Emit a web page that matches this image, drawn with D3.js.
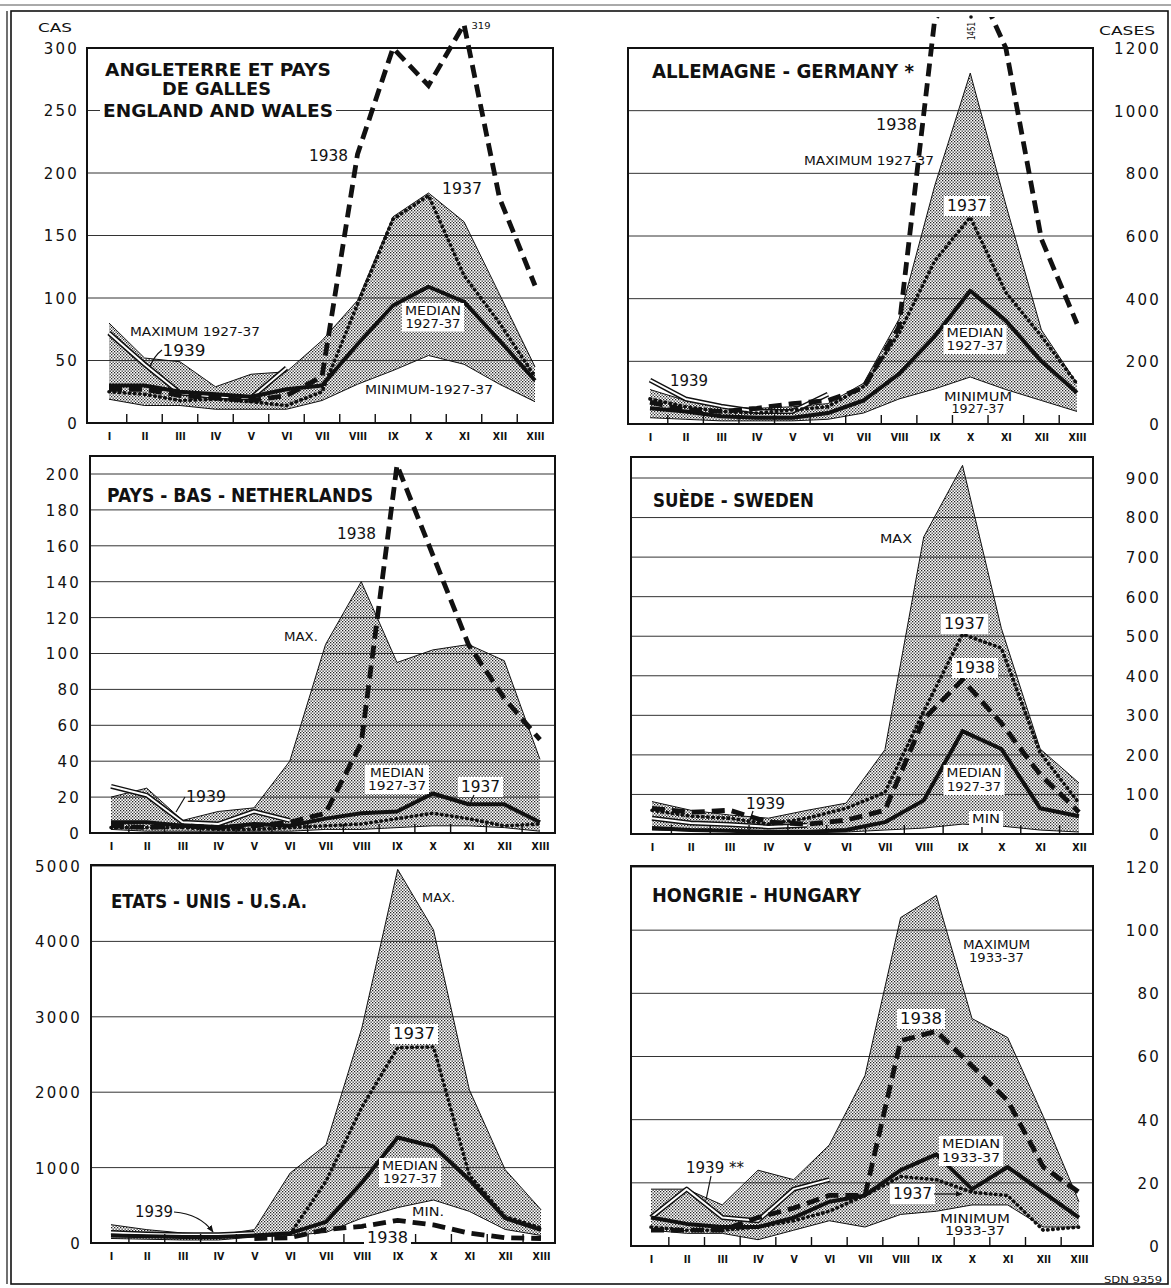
<!DOCTYPE html>
<html>
<head>
<meta charset="utf-8">
<script src="https://cdn.jsdelivr.net/npm/d3@7"></script>
<style>
body { margin: 0; background: #fff; }
svg text { font-family: "DejaVu Sans", sans-serif; fill: #111; }
</style>
</head>
<body>
<div id="canvas"></div>
<script>
"use strict"

// periods (4-week periods, Sweden monthly)
const periods13 = ["I", "II", "III", "IV", "V", "VI", "VII", "VIII", "IX", "X", "XI", "XII", "XIII"];
const periods12 = ["I", "II", "III", "IV", "V", "VI", "VII", "VIII", "IX", "X", "XI", "XII"];

// England and Wales
const engTicks = [0, 50, 100, 150, 200, 250, 300];
const engMax = [80, 52, 49, 29, 39, 41, 66, 98, 165, 184, 161, 103, 45];
const engMin = [19, 14, 14, 11, 11, 11, 18, 31, 42, 54, 47, 31, 17];
const engMedian = [30, 30, 25, 23, 21, 27, 30, 63, 94, 109, 97, 66, 34];
const eng1937 = [25, 23, 18, 19, 17, 14, 25, 95, 163, 182, 118, 80, 37];
const eng1938 = [27, 27, 22, 20, 18, 22, 37, 215, 300, 270, 319, 180, 110];
const eng1939 = [72, 47, 24, 21, 20, 44];

// Germany
const gerTicks = [0, 200, 400, 600, 800, 1000, 1200];
const gerMax = [110, 75, 55, 50, 55, 65, 130, 335, 760, 1120, 700, 300, 130];
const gerMin = [20, 15, 10, 10, 10, 15, 35, 80, 112, 150, 110, 75, 40];
const gerMedian = [50, 40, 25, 20, 20, 35, 75, 160, 280, 425, 330, 200, 100];
const ger1937 = [80, 55, 40, 35, 45, 55, 120, 290, 520, 660, 420, 280, 128];
const ger1938 = [70, 45, 40, 50, 65, 75, 115, 310, 1290, 1451, 1200, 590, 320];
const ger1939 = [140, 80, 57, 40, 40, 95];

// Netherlands
const nlTicks = [0, 20, 40, 60, 80, 100, 120, 140, 160, 180, 200];
const nlMax = [20, 25, 7, 12, 14, 40, 105, 140, 95, 102, 105, 96, 41];
const nlMin = [2, 1, 1, 1, 1, 1, 2, 2, 3, 4, 4, 3, 1];
const nlMedian = [6, 6, 4, 3, 5, 4, 8, 11, 12, 22, 16, 16, 6];
const nl1937 = [3, 3, 3, 2, 2, 3, 4, 5, 8, 11, 8, 4, 5];
const nl1938 = [4, 3, 4, 3, 4, 6, 11, 50, 205, 155, 105, 75, 52];
const nl1939 = [26, 21, 6, 5, 12, 7];

// Sweden
const sweTicks = [0, 100, 200, 300, 400, 500, 600, 700, 800, 900];
const sweMax = [82, 60, 48, 40, 60, 78, 213, 751, 932, 520, 215, 129];
const sweMin = [10, 8, 7, 5, 5, 5, 10, 15, 25, 20, 10, 5];
const sweMedian = [15, 10, 8, 5, 5, 10, 30, 85, 260, 215, 65, 45];
const swe1937 = [60, 45, 40, 25, 40, 65, 105, 310, 505, 470, 205, 78];
const swe1938 = [65, 55, 60, 30, 25, 35, 60, 290, 390, 280, 150, 55];
const swe1939 = [40, 28, 24, 18, 22];

// U.S.A.
const usaTicks = [0, 1000, 2000, 3000, 4000, 5000];
const usaMax = [243, 177, 133, 110, 177, 928, 1300, 2850, 4955, 4152, 2032, 972, 442];
const usaMin = [60, 50, 40, 40, 80, 100, 140, 330, 470, 570, 420, 180, 100];
const usaMedian = [100, 90, 80, 80, 100, 130, 280, 800, 1400, 1280, 840, 330, 175];
const usa1937 = [null, null, null, null, null, 120, 820, 1800, 2590, 2600, 900, 350, 200];
const usa1938 = [null, null, null, null, 60, 70, 180, 220, 300, 240, 130, 70, 60];
const usa1939 = [140, 120, 110, 110, 130];

// Hungary
const hunTicks = [0, 20, 40, 60, 80, 100, 120];
const hunMax = [18, 18, 13, 24, 21, 32, 54, 104, 111, 72, 66, 41, 14];
const hunMin = [5, 4, 4, 2, 5, 8, 6, 10, 11, 13, 13, 6, 6];
const hunMedian = [9, 7, 6, 6, 9, 14, 16, 24, 29, 18, 25, 17, 9];
const hun1937 = [6, 5, 5, 6, 8, 11, 16, 22, 21, 17, 16, 5, 6];
const hun1938 = [5, 5, 5, 9, 12, 16, 16, 65, 68, 57, 46, 25, 17];
const hun1939 = [9, 18, 9, 8, 18, 21];

let drawing = d3.select("#canvas")
    .append("svg")
    .attr("width", 1171)
    .attr("height", 1288);

// stipple used for the max-min band
let defs = drawing.append("defs");
let pat = defs.append("pattern")
    .attr("id", "stipple")
    .attr("width", 3)
    .attr("height", 3)
    .attr("patternUnits", "userSpaceOnUse");
pat.append("rect").attr("width", 1.3).attr("height", 1.3).attr("fill", "#222");
pat.append("rect").attr("x", 1.5).attr("y", 1.5).attr("width", 1.3).attr("height", 1.3).attr("fill", "#222");

defs.append("marker")
    .attr("id", "arrow")
    .attr("viewBox", "0 0 10 10")
    .attr("refX", 9).attr("refY", 5)
    .attr("markerWidth", 6).attr("markerHeight", 6)
    .attr("orient", "auto")
    .append("path").attr("d", "M0,1 L10,5 L0,9 z").attr("fill", "#111");

defs.append("clipPath").attr("id", "gerClip")
    .append("rect").attr("x", 600).attr("y", 17).attr("width", 520).attr("height", 420);

// outer border
drawing.append("rect")
    .attr("x", 11).attr("y", 11).attr("width", 1157).attr("height", 1273)
    .attr("fill", "none").attr("stroke", "#111").attr("stroke-width", 1.6);
drawing.append("line")
    .attr("x1", 7).attr("x2", 7).attr("y1", 11).attr("y2", 1284)
    .attr("stroke", "#111").attr("stroke-width", 1.2);
drawing.append("line")
    .attr("x1", 0).attr("x2", 1171).attr("y1", 5).attr("y2", 5)
    .attr("stroke", "#555").attr("stroke-width", 1);

function addLabel(g, L) {
    let lines = Array.isArray(L.t) ? L.t : [L.t];
    let grp = g.append("g");
    lines.forEach((s, i) => {
        let t = grp.append("text")
            .attr("x", L.x)
            .attr("y", L.y + i * (L.lh || 0))
            .attr("text-anchor", "middle")
            .attr("font-size", L.s || 15)
            .attr("font-weight", L.bold ? "bold" : null)
            .text(s);
        let w = Array.isArray(L.w) ? L.w[i] : L.w;
        if (w) t.attr("textLength", w).attr("lengthAdjust", "spacingAndGlyphs");
    });
    if (L.box) {
        let b = grp.node().getBBox();
        grp.insert("rect", ":first-child")
            .attr("x", b.x - 3).attr("y", b.y - 1)
            .attr("width", b.width + 6).attr("height", b.height + 2)
            .attr("fill", "white");
    }
    if (L.lead) {
        g.append("path")
            .attr("d", L.lead)
            .attr("fill", "none")
            .attr("stroke", "#111")
            .attr("stroke-width", 1.2)
            .attr("marker-end", L.arrow ? "url(#arrow)" : null);
    }
}

function drawPanel(p) {
    let g = drawing.append("g");
    let x = d3.scalePoint().domain(p.cats).range([p.x0, p.x1]);
    let y = d3.scaleLinear().domain([0, d3.max(p.ticks)]).range([p.yBase, p.yTopTick]);

    // gridlines
    g.append("g").selectAll("line")
        .data(p.ticks.filter(t => t > 0))
        .join("line")
        .attr("x1", p.left).attr("x2", p.right)
        .attr("y1", d => y(d)).attr("y2", d => y(d))
        .attr("stroke", "#333").attr("stroke-width", 1);

    let s = g.append("g");
    if (p.clip) s.attr("clip-path", "url(#" + p.clip + ")");

    let idx = p.cats.map((c, i) => i);
    let area = d3.area()
        .x(i => x(p.cats[i]))
        .y0(i => y(p.min[i]))
        .y1(i => y(p.max[i]));
    s.append("path").datum(idx).attr("d", area).attr("fill", "url(#stipple)");

    let lineOf = arr => d3.line()
        .defined(i => arr[i] != null)
        .x(i => x(p.cats[i]))
        .y(i => y(arr[i]))(arr.map((v, i) => i));

    s.append("path").attr("d", lineOf(p.max)).attr("fill", "none").attr("stroke", "#111").attr("stroke-width", 1);
    s.append("path").attr("d", lineOf(p.min)).attr("fill", "none").attr("stroke", "#111").attr("stroke-width", 1);

    // 1939: double line
    s.append("path").attr("d", lineOf(p.s1939)).attr("fill", "none").attr("stroke", "#111")
        .attr("stroke-width", 5).attr("stroke-linejoin", "round");
    s.append("path").attr("d", lineOf(p.s1939)).attr("fill", "none").attr("stroke", "#fff")
        .attr("stroke-width", 2).attr("stroke-linejoin", "round");

    // median
    s.append("path").attr("d", lineOf(p.median)).attr("fill", "none").attr("stroke", "#111")
        .attr("stroke-width", 4).attr("stroke-linejoin", "round");
    // 1937 dotted
    s.append("path").attr("d", lineOf(p.s1937)).attr("fill", "none").attr("stroke", "#111")
        .attr("stroke-width", 3.6).attr("stroke-dasharray", "0.5,4.6").attr("stroke-linecap", "round");
    // 1938 dashed
    s.append("path").attr("d", lineOf(p.s1938)).attr("fill", "none").attr("stroke", "#111")
        .attr("stroke-width", 4.8).attr("stroke-dasharray", "13,7");

    // frame
    g.append("rect")
        .attr("x", p.left).attr("y", p.top)
        .attr("width", p.right - p.left).attr("height", p.yBase - p.top)
        .attr("fill", "none").attr("stroke", "#111").attr("stroke-width", 2);

    // period boundary ticks
    let step = x.step();
    g.append("g").selectAll("line")
        .data(p.cats.slice(1))
        .join("line")
        .attr("x1", d => x(d) - step / 2).attr("x2", d => x(d) - step / 2)
        .attr("y1", p.yBase).attr("y2", p.yBase - 9)
        .attr("stroke", "#111").attr("stroke-width", 1.4);

    // x labels
    let xa = g.append("g")
        .attr("transform", "translate(0," + (p.yBase + 17) + ")")
        .call(d3.axisBottom(x).tickSize(0).tickPadding(0));
    xa.select(".domain").remove();
    xa.selectAll("text")
        .attr("y", 0).attr("dy", 0)
        .attr("font-size", 10.5)
        .attr("font-weight", "bold")
        .style("font-family", "'DejaVu Sans Condensed', 'DejaVu Sans', sans-serif");

    // y labels
    let ya = g.append("g")
        .attr("transform", "translate(" + p.labelX + ",0)")
        .call((p.side === "left" ? d3.axisLeft(y) : d3.axisRight(y))
            .tickValues(p.ticks).tickSize(0).tickPadding(0).tickFormat(d3.format("d")));
    ya.select(".domain").remove();
    ya.selectAll("text")
        .attr("x", 0)
        .attr("dy", "0.36em")
        .attr("text-anchor", "end")
        .attr("font-size", 15)
        .attr("letter-spacing", 2.2);

    // title
    p.title.forEach(L => addLabel(g, Object.assign({ bold: true, s: 19, box: true }, L)));
    p.labels.forEach(L => addLabel(g, L));
}

drawPanel({
    cats: periods13, ticks: engTicks,
    max: engMax, min: engMin, median: engMedian, s1937: eng1937, s1938: eng1938, s1939: eng1939,
    left: 87, right: 553, top: 48, yBase: 423, yTopTick: 48, x0: 109, x1: 535,
    side: "left", labelX: 79,
    title: [
        { t: "ANGLETERRE ET PAYS", x: 218, y: 76, w: 226, s: 17 },
        { t: "DE GALLES", x: 216.5, y: 95, w: 109, s: 17 },
        { t: "ENGLAND AND WALES", x: 218, y: 117, w: 230, s: 17 }
    ],
    labels: [
        { t: "CAS", x: 55, y: 32, s: 12, w: 34 },
        { t: "319", x: 481, y: 29, s: 9, w: 19 },
        { t: "1938", x: 328.5, y: 161, w: 39 },
        { t: "1937", x: 462, y: 194, w: 40 },
        { t: "MAXIMUM 1927-37", x: 195, y: 336, s: 12, w: 130 },
        { t: "1939", x: 184, y: 356, w: 43, lead: "M162,350 Q154,356 150,367" },
        { t: ["MEDIAN", "1927-37"], x: 433, y: 315, lh: 12.5, s: 12, w: [56, 55], box: true },
        { t: "MINIMUM-1927-37", x: 429, y: 394, s: 12, w: 128 }
    ]
});

drawPanel({
    cats: periods13, ticks: gerTicks,
    max: gerMax, min: gerMin, median: gerMedian, s1937: ger1937, s1938: ger1938, s1939: ger1939,
    left: 628, right: 1093, top: 48, yBase: 424, yTopTick: 48, x0: 650, x1: 1077,
    side: "right", labelX: 1161, clip: "gerClip",
    title: [
        { t: "ALLEMAGNE - GERMANY *", x: 783, y: 78, w: 262 }
    ],
    labels: [
        { t: "CASES", x: 1127, y: 35, s: 13, w: 56 },
        { t: "1938", x: 896.5, y: 130, w: 41 },
        { t: "MAXIMUM 1927-37", x: 869, y: 165, s: 12, w: 130 },
        { t: "1937", x: 967, y: 211, w: 40, box: true },
        { t: ["MEDIAN", "1927-37"], x: 975, y: 337, lh: 13, s: 12, w: [57, 57], box: true },
        { t: ["MINIMUM", "1927-37"], x: 978, y: 401, lh: 12, s: 12, w: [68, 53] },
        { t: "1939", x: 689, y: 386, w: 38 }
    ]
});

// rotated off-scale value for Germany 1938
drawing.append("text")
    .attr("transform", "translate(975,40) rotate(-90)")
    .attr("font-size", 10)
    .attr("textLength", 18)
    .attr("lengthAdjust", "spacingAndGlyphs")
    .text("1451");
drawing.append("circle").attr("cx", 971).attr("cy", 17).attr("r", 1.8).attr("fill", "#111");

drawPanel({
    cats: periods13, ticks: nlTicks,
    max: nlMax, min: nlMin, median: nlMedian, s1937: nl1937, s1938: nl1938, s1939: nl1939,
    left: 90, right: 555, top: 456, yBase: 833, yTopTick: 474, x0: 111, x1: 540,
    side: "left", labelX: 81,
    title: [
        { t: "PAYS - BAS - NETHERLANDS", x: 240, y: 502, w: 266 }
    ],
    labels: [
        { t: "1938", x: 356.5, y: 539, w: 39 },
        { t: "MAX.", x: 301, y: 641, s: 12, w: 34 },
        { t: ["MEDIAN", "1927-37"], x: 397, y: 777, lh: 13, s: 12, w: [54, 58], box: true },
        { t: "1937", x: 480.5, y: 792, w: 39, box: true, lead: "M474,795 L469,806" },
        { t: "1939", x: 206, y: 802, w: 40, lead: "M185,797 L176,812" }
    ]
});

drawPanel({
    cats: periods12, ticks: sweTicks,
    max: sweMax, min: sweMin, median: sweMedian, s1937: swe1937, s1938: swe1938, s1939: swe1939,
    left: 631, right: 1093, top: 457, yBase: 834, yTopTick: 478, x0: 652, x1: 1079,
    side: "right", labelX: 1161,
    title: [
        { t: "SUÈDE - SWEDEN", x: 733.5, y: 507, w: 161 }
    ],
    labels: [
        { t: "MAX", x: 896, y: 543, s: 12, w: 32 },
        { t: "1937", x: 964.5, y: 629, w: 41, box: true },
        { t: "1938", x: 975, y: 673, w: 40, box: true },
        { t: ["MEDIAN", "1927-37"], x: 974, y: 777, lh: 14, s: 12, w: [55, 54], box: true },
        { t: "MIN", x: 986, y: 823, s: 12, w: 28, box: true },
        { t: "1939", x: 765.5, y: 809, w: 39, lead: "M753,811 L749,823" }
    ]
});

drawPanel({
    cats: periods13, ticks: usaTicks,
    max: usaMax, min: usaMin, median: usaMedian, s1937: usa1937, s1938: usa1938, s1939: usa1939,
    left: 91, right: 555, top: 865, yBase: 1243, yTopTick: 866, x0: 111, x1: 541,
    side: "left", labelX: 82,
    title: [
        { t: "ETATS - UNIS - U.S.A.", x: 209, y: 908, w: 196 }
    ],
    labels: [
        { t: "MAX.", x: 438.5, y: 902, s: 12, w: 33 },
        { t: "1937", x: 414, y: 1039, w: 42, box: true },
        { t: ["MEDIAN", "1927-37"], x: 410, y: 1170, lh: 13, s: 12, w: [56, 54], box: true },
        { t: "MIN.", x: 428, y: 1216, s: 12, w: 32 },
        { t: "1938", x: 387.5, y: 1243, w: 41, box: true },
        { t: "1939", x: 154, y: 1217, w: 38, lead: "M174,1212 Q200,1214 213,1232", arrow: true }
    ]
});

drawPanel({
    cats: periods13, ticks: hunTicks,
    max: hunMax, min: hunMin, median: hunMedian, s1937: hun1937, s1938: hun1938, s1939: hun1939,
    left: 631, right: 1093, top: 866, yBase: 1246, yTopTick: 867, x0: 651, x1: 1079,
    side: "right", labelX: 1161,
    title: [
        { t: "HONGRIE - HUNGARY", x: 756.5, y: 902, w: 209 }
    ],
    labels: [
        { t: ["MAXIMUM", "1933-37"], x: 996.5, y: 949, lh: 13, s: 12, w: [67, 55] },
        { t: "1938", x: 921, y: 1024, w: 42, box: true },
        { t: ["MEDIAN", "1933-37"], x: 971, y: 1148, lh: 14, s: 12, w: [58, 58], box: true },
        { t: "1937", x: 912.5, y: 1199, w: 39, box: true, lead: "M934,1194 L962,1194", arrow: true },
        { t: ["MINIMUM", "1933-37"], x: 975, y: 1223, lh: 12, s: 12, w: [70, 60] },
        { t: "1939 **", x: 715, y: 1173, w: 58, lead: "M711,1176 L706,1200" },
        { t: "SDN 9359", x: 1133, y: 1283, s: 9, w: 58 }
    ]
});
</script>
</body>
</html>
